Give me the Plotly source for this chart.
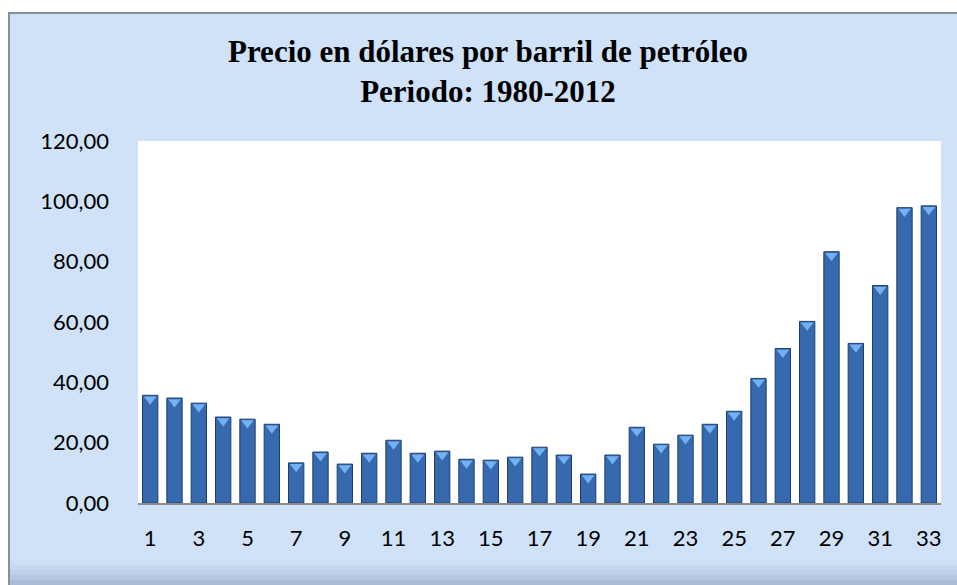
import plotly.graph_objects as go

periods = list(range(1, 34))
prices = [35.7, 34.8, 33.1, 28.5, 27.8, 26.1, 13.3, 16.9, 12.9, 16.5,
          20.8, 16.5, 17.2, 14.5, 14.2, 15.2, 18.5, 15.9, 9.6, 15.9,
          25.1, 19.5, 22.5, 26.1, 30.4, 41.3, 51.2, 60.2, 83.3, 52.9,
          72.1, 97.9, 98.5]
tick_vals_y = [0, 20, 40, 60, 80, 100, 120]
tick_text_y = ["0,00", "20,00", "40,00", "60,00", "80,00", "100,00", "120,00"]
tick_vals_x = list(range(1, 34, 2))
title_lines = ["Precio en dólares por barril de petróleo", "Periodo: 1980-2012"]

W, H = 957, 585
L, R, T, B = 138, 16, 141, 82
pw, ph = W - L - R, H - T - B

def px_x(px):
    return (px - L) / pw

def px_y(py):
    return (H - B - py) / ph

fig = go.Figure()
fig.add_trace(go.Bar(
    x=periods, y=prices,
    marker=dict(color="#3669ad", line=dict(color="#1e3f6c", width=1)),
    hoverinfo="x+y",
))
# bevel highlight at top of each bar
fig.add_trace(go.Scatter(
    x=periods, y=[p - 1.3 for p in prices], mode="markers",
    marker=dict(symbol="triangle-down", size=11, color="#72b2f2",
                line=dict(width=0)),
    hoverinfo="skip",
))

shapes = [
    # white outside the frame (top and left strips)
    dict(type="rect", xref="paper", yref="paper",
         x0=px_x(-5), x1=px_x(970), y0=px_y(13), y1=px_y(-5),
         fillcolor="white", line=dict(width=0), layer="below"),
    dict(type="rect", xref="paper", yref="paper",
         x0=px_x(-5), x1=px_x(9), y0=px_y(600), y1=px_y(-5),
         fillcolor="white", line=dict(width=0), layer="below"),
    # frame border
    dict(type="rect", xref="paper", yref="paper",
         x0=px_x(9), x1=px_x(965), y0=px_y(595), y1=px_y(13),
         fillcolor="rgba(0,0,0,0)", line=dict(color="#8a8f96", width=2), layer="below"),
]
# bottom bevel band
band_cols = ["#cbdef4", "#c4d7ee", "#bcd0e7", "#b3c7de", "#aabdd4"]
for i, c in enumerate(band_cols):
    y_top = 560 + i * 5
    shapes.append(dict(type="rect", xref="paper", yref="paper",
                       x0=px_x(10), x1=px_x(960), y0=px_y(y_top + 5), y1=px_y(y_top),
                       fillcolor=c, line=dict(width=0), layer="below"))
# white plot area
shapes.append(dict(type="rect", xref="paper", yref="paper",
                   x0=0, x1=1, y0=0, y1=1,
                   fillcolor="white", line=dict(width=0), layer="below"))

fig.update_layout(
    width=W, height=H,
    margin=dict(l=L, r=R, t=T, b=B),
    paper_bgcolor="#cfe2f8",
    plot_bgcolor="white",
    showlegend=False,
    bargap=0.37,
    shapes=shapes,
    title=dict(
        text="<b>" + "<br>".join(title_lines) + "</b>",
        x=488 / W, xanchor="center", xref="container",
        y=1 - 62 / H, yanchor="middle", yref="container",
        font=dict(family="Liberation Serif", size=31, color="black"),
    ),
    xaxis=dict(
        range=[0.5, 33.5],
        tickmode="array", tickvals=tick_vals_x,
        ticktext=[str(v) for v in tick_vals_x],
        showgrid=False, zeroline=False,
        showline=True, linecolor="#8c8c8c", linewidth=2,
        ticks="", ticklabelstandoff=15,
        tickfont=dict(family="Lato", size=22, color="black"),
    ),
    yaxis=dict(
        range=[0, 120],
        tickmode="array", tickvals=tick_vals_y, ticktext=tick_text_y,
        showgrid=False, zeroline=False, showline=False,
        ticks="", ticklabelstandoff=28,
        tickfont=dict(family="Lato", size=22, color="black"),
    ),
)

fig.write_html("out.html", config={"displayModeBar": False},
               post_script="document.body.style.margin='0';")
